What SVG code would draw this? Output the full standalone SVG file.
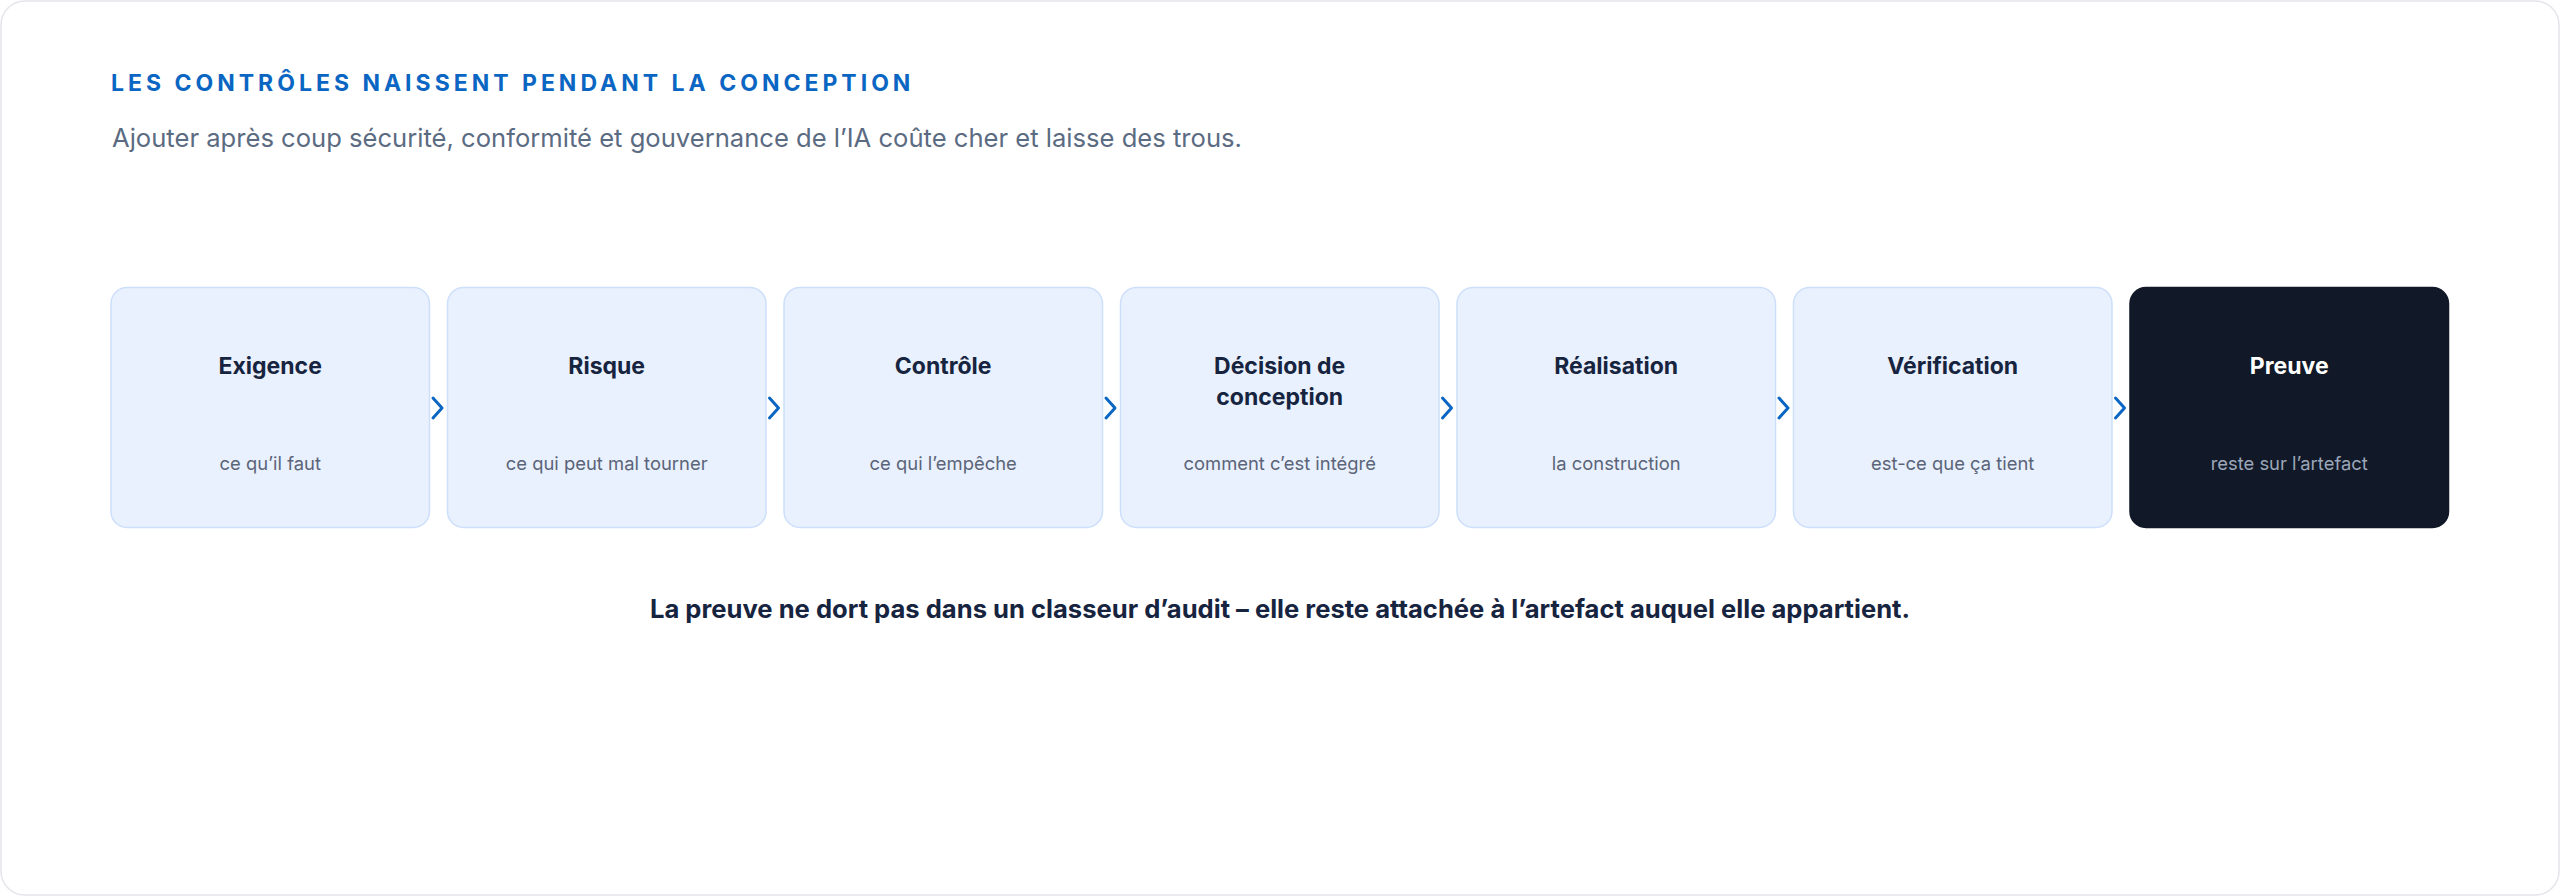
<svg xmlns="http://www.w3.org/2000/svg" width="2560" height="896" viewBox="0 0 2560 896">
<defs>
<style>
.card{fill:#ffffff;stroke:#e3e5ea;stroke-width:1.5}
.box{fill:#e8f1fd;stroke:#cddffa;stroke-width:1.5}
.box-dark{fill:#111827;stroke:#111827;stroke-width:1.5}
.t{font-family:Inter,"Liberation Sans",sans-serif;font-weight:700;font-size:23px;fill:#17243f;text-anchor:middle}
.t-dark{fill:#ffffff}
.s{font-family:Inter,"Liberation Sans",sans-serif;font-weight:400;font-size:18.4px;fill:#5b6479;text-anchor:middle}
.s-dark{fill:#9ba6b8}
.chev{fill:none;stroke:#0a66c2;stroke-width:3;stroke-linecap:round;stroke-linejoin:round}
</style>
</defs>
<rect class="card" x="1" y="1" width="2558" height="894" rx="24"/>
<text x="111" y="91" font-family="Inter,'Liberation Sans',sans-serif" font-weight="700" font-size="23" letter-spacing="4" fill="#0a66c2">LES CONTRÔLES NAISSENT PENDANT LA CONCEPTION</text>
<text x="112" y="147" font-family="Inter,'Liberation Sans',sans-serif" font-weight="400" font-size="25.6" fill="#5b6b82">Ajouter après coup sécurité, conformité et gouvernance de l’IA coûte cher et laisse des trous.</text>
<g id="node-exigence">
<rect class="box" x="111" y="287.5" width="318.5" height="240" rx="16"/>
<text class="t" x="270.2" y="374">Exigence</text>
<text class="s" x="270.2" y="470">ce qu’il faut</text>
</g>
<g id="node-risque">
<rect class="box" x="447.5" y="287.5" width="318.5" height="240" rx="16"/>
<text class="t" x="606.7" y="374">Risque</text>
<text class="s" x="606.7" y="470">ce qui peut mal tourner</text>
</g>
<g id="node-controle">
<rect class="box" x="784" y="287.5" width="318.5" height="240" rx="16"/>
<text class="t" x="943.2" y="374">Contrôle</text>
<text class="s" x="943.2" y="470">ce qui l’empêche</text>
</g>
<g id="node-decision">
<rect class="box" x="1120.5" y="287.5" width="318.5" height="240" rx="16"/>
<text class="t" x="1279.7" y="374">Décision de</text>
<text class="t" x="1279.7" y="405">conception</text>
<text class="s" x="1279.7" y="470">comment c’est intégré</text>
</g>
<g id="node-realisation">
<rect class="box" x="1457" y="287.5" width="318.5" height="240" rx="16"/>
<text class="t" x="1616.2" y="374">Réalisation</text>
<text class="s" x="1616.2" y="470">la construction</text>
</g>
<g id="node-verification">
<rect class="box" x="1793.5" y="287.5" width="318.5" height="240" rx="16"/>
<text class="t" x="1952.7" y="374">Vérification</text>
<text class="s" x="1952.7" y="470">est-ce que ça tient</text>
</g>
<g id="node-preuve">
<rect class="box-dark" x="2130" y="287.5" width="318.5" height="240" rx="16"/>
<text class="t t-dark" x="2289.2" y="374">Preuve</text>
<text class="s s-dark" x="2289.2" y="470">reste sur l’artefact</text>
</g>
<g id="connectors">
<path class="chev" d="M433,398 L442,408 L433,418"/>
<path class="chev" d="M769.5,398 L778.5,408 L769.5,418"/>
<path class="chev" d="M1106,398 L1115,408 L1106,418"/>
<path class="chev" d="M1442.5,398 L1451.5,408 L1442.5,418"/>
<path class="chev" d="M1779,398 L1788,408 L1779,418"/>
<path class="chev" d="M2115.5,398 L2124.5,408 L2115.5,418"/>
</g>
<text x="1280" y="618" font-family="Inter,'Liberation Sans',sans-serif" font-weight="700" font-size="25.6" fill="#17243f" text-anchor="middle">La preuve ne dort pas dans un classeur d’audit – elle reste attachée à l’artefact auquel elle appartient.</text>
</svg>
